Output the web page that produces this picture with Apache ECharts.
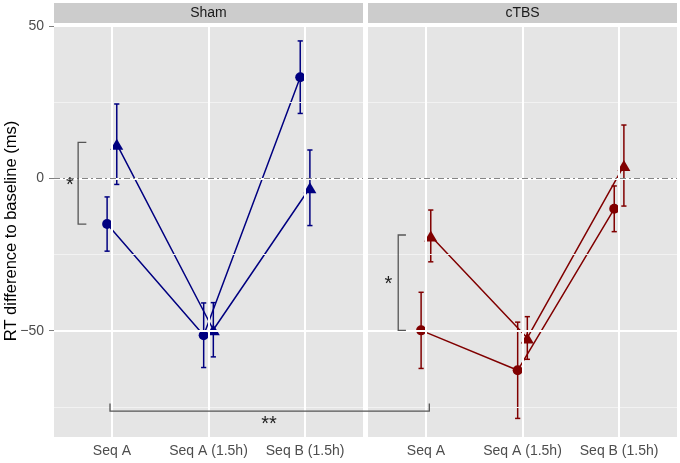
<!DOCTYPE html>
<html>
<head>
<meta charset="utf-8">
<script src="https://cdn.jsdelivr.net/npm/echarts@6/dist/echarts.min.js"></script>
<style>
html,body{margin:0;padding:0;background:#fff;}
#c{width:680px;height:463px;}
</style>
</head>
<body>
<div id="c"></div>
<script>
// ---- data ----
const categories = ['Seq A', 'Seq A (1.5h)', 'Seq B (1.5h)'];
const panels = ['Sham', 'cTBS'];
const yTitle = 'RT difference to baseline (ms)';
const yTickValues = [-50, 0, 50];
const yTickLabels = ['\u221250', '0', '50'];
const yMajorGrid = [-50, 0, 50];
const yMinorGrid = [-75, -25, 25];

const shamCircleMean = [-15.0, -51.5, 33.2];
const shamCircleErr  = [8.9, 10.6, 11.9];
const shamTriMean    = [11.2, -49.7, -3.1];
const shamTriErr     = [13.2, 8.9, 12.4];

const ctbsCircleMean = [-49.9, -63.0, -10.0];
const ctbsCircleErr  = [12.5, 15.8, 7.5];
const ctbsTriMean    = [-18.9, -52.4, 4.2];
const ctbsTriErr     = [8.5, 7.0, 13.3];

const panelData = [
  {circle: shamCircleMean, circleErr: shamCircleErr, tri: shamTriMean, triErr: shamTriErr, color: '#000080'},
  {circle: ctbsCircleMean, circleErr: ctbsCircleErr, tri: ctbsTriMean, triErr: ctbsTriErr, color: '#800000'}
];

// ---- layout ----
const gridTop = 25, gridH = 412, gridW = 309;
const gridLefts = [54, 368];
const Y_MIN = -84.9, Y_MAX = 50.33;
const X_MIN = 0.4, X_MAX = 3.6;
const DODGE = 0.05;
const FONT = '"Liberation Sans", Arial, Helvetica, sans-serif';

const chart = echarts.init(document.getElementById('c'), null, {renderer: 'canvas'});

const grids = gridLefts.map(l => ({left: l, top: gridTop, width: gridW, height: gridH, show: true, backgroundColor: '#e5e5e5', borderWidth: 0, containLabel: false, outerBoundsMode: 'none'}));
const xAxes = [0, 1].map(i => ({
  type: 'value', gridIndex: i, min: X_MIN, max: X_MAX,
  axisLine: {show: false},
  axisTick: {show: true, length: 4, lineStyle: {color: '#7f7f7f', width: 1}, customValues: [1, 2, 3]},
  axisLabel: {show: true, customValues: [1, 2, 3], margin: 7, color: '#4d4d4d', fontSize: 14, fontFamily: FONT,
    formatter: v => categories[Math.round(v) - 1] || ''},
  splitLine: {show: false}
}));
const yAxes = [0, 1].map(i => ({
  type: 'value', gridIndex: i, min: Y_MIN, max: Y_MAX,
  axisLine: {show: false},
  axisTick: {show: i === 0, length: 5, lineStyle: {color: '#7f7f7f', width: 1}, customValues: yTickValues},
  axisLabel: {show: i === 0, customValues: yTickValues, margin: 10, color: '#4d4d4d', fontSize: 14, fontFamily: FONT,
    formatter: v => { const k = yTickValues.indexOf(Math.round(v)); return k >= 0 ? yTickLabels[k] : ''; }},
  splitLine: {show: false}
}));

const series = [];
[0, 1].forEach(i => {
  // grid lines + zero line
  const ml = [];
  yMinorGrid.forEach(v => ml.push({yAxis: v, lineStyle: {color: '#f2f2f2', width: 1, type: 'solid'}}));
  yMajorGrid.forEach(v => ml.push({yAxis: v, lineStyle: {color: '#ffffff', width: 2, type: 'solid'}}));
  categories.forEach((c, k) => ml.push({xAxis: k + 1, lineStyle: {color: '#ffffff', width: 2, type: 'solid'}}));
  ml.push({yAxis: 0, lineStyle: {color: '#858585', width: 1.2, type: [6, 3, 2, 3]}});
  series.push({
    type: 'line', xAxisIndex: i, yAxisIndex: i, data: [], z: 1, silent: true,
    markLine: {silent: true, symbol: ['none', 'none'], label: {show: false}, animation: false, data: ml}
  });
  const pd = panelData[i];
  const mk = (means, off) => means.map((m, k) => [k + 1 + off, m]);
  const mkErr = (means, errs, off) => means.map((m, k) => [k + 1 + off, m - errs[k], m + errs[k]]);
  const errSeries = (d) => ({
    type: 'custom', xAxisIndex: i, yAxisIndex: i, z: 3, silent: true, animation: false,
    data: d, encode: {x: 0, y: [1, 2]},
    renderItem: (params, api) => {
      const x = api.value(0), lo = api.value(1), hi = api.value(2);
      const a = api.coord([x, hi]), b = api.coord([x, lo]);
      const w = 2.6, st = {stroke: pd.color, lineWidth: 1.5};
      return {type: 'group', children: [
        {type: 'line', shape: {x1: a[0], y1: a[1], x2: b[0], y2: b[1]}, style: st},
        {type: 'line', shape: {x1: a[0] - w, y1: a[1], x2: a[0] + w, y2: a[1]}, style: st},
        {type: 'line', shape: {x1: b[0] - w, y1: b[1], x2: b[0] + w, y2: b[1]}, style: st}
      ]};
    }
  });
  series.push(errSeries(mkErr(pd.circle, pd.circleErr, -DODGE)));
  series.push(errSeries(mkErr(pd.tri, pd.triErr, DODGE)));
  series.push({type: 'line', xAxisIndex: i, yAxisIndex: i, z: 4, animation: false, silent: true,
    data: mk(pd.circle, -DODGE), symbol: 'circle', symbolSize: 10, showAllSymbol: true,
    lineStyle: {color: pd.color, width: 1.5}, itemStyle: {color: pd.color, borderWidth: 0}});
  series.push({type: 'line', xAxisIndex: i, yAxisIndex: i, z: 4, animation: false, silent: true,
    data: mk(pd.tri, DODGE), symbol: 'triangle', symbolSize: [13, 11], showAllSymbol: true,
    lineStyle: {color: pd.color, width: 1.5}, itemStyle: {color: pd.color, borderWidth: 0}});
});

chart.setOption({
  animation: false,
  backgroundColor: '#ffffff',
  grid: grids, xAxis: xAxes, yAxis: yAxes, series: series
});

// ---- annotations (strips, axis title, significance brackets) ----
const P = (g, x, y) => chart.convertToPixel({gridIndex: g}, [x, y]);
const graphics = [];
gridLefts.forEach((l, i) => {
  graphics.push({type: 'rect', shape: {x: l, y: 3, width: gridW, height: 20}, style: {fill: '#cccccc'}, z: 0});
  graphics.push({type: 'text', x: l + gridW / 2, y: 13.5, style: {text: panels[i], fill: '#1a1a1a', font: '14px ' + FONT, textAlign: 'center', textVerticalAlign: 'middle'}, z: 1});
});
graphics.push({type: 'text', x: 11, y: gridTop + gridH / 2, rotation: Math.PI / 2,
  style: {text: yTitle, fill: '#000', font: '16.5px ' + FONT, textAlign: 'center', textVerticalAlign: 'middle'}, z: 1});
const bracketStyle = {stroke: '#555555', lineWidth: 1.3, fill: null};
function vBracket(g, x, xt, y1, y2, starX, starY, txt) {
  const a = P(g, xt, y1), b = P(g, x, y1), c = P(g, x, y2), d = P(g, xt, y2);
  graphics.push({type: 'polyline', shape: {points: [a, b, c, d]}, style: bracketStyle, z: 10});
  const s = P(g, starX, starY);
  graphics.push({type: 'text', x: s[0], y: s[1], style: {text: txt, fill: '#222', font: '20px ' + FONT, textAlign: 'center', textVerticalAlign: 'middle'}, z: 10});
}
vBracket(0, 0.65, 0.735, 11.8, -15.0, 0.565, -2.2, '*');
vBracket(1, 0.713, 0.793, -18.6, -49.9, 0.61, -34.7, '*');
{
  const a = P(0, 0.98, -73.9), b = P(0, 0.98, -76.4), c = P(1, 1.035, -76.4), d = P(1, 1.035, -73.9);
  graphics.push({type: 'polyline', shape: {points: [a, b, c, d]}, style: bracketStyle, z: 10});
  const s = P(0, 2.626, -80.8);
  graphics.push({type: 'text', x: s[0], y: s[1], style: {text: '**', fill: '#222', font: '20px ' + FONT, textAlign: 'center', textVerticalAlign: 'middle'}, z: 10});
}
chart.setOption({graphic: graphics});
</script>
</body>
</html>
